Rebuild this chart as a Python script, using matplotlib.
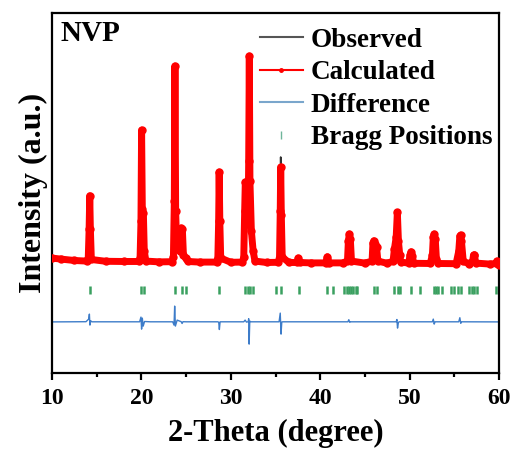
import matplotlib
matplotlib.use("Agg")
import matplotlib.pyplot as plt
from matplotlib.lines import Line2D

plt.rcParams['font.family'] = ['Liberation Serif', 'DejaVu Serif']
plt.rcParams['font.weight'] = 'bold'
plt.rcParams['path.simplify'] = False

# ---------------- data ----------------
calc_x = [10.0, 11.0, 12.5, 13.9,
          14.05, 14.15, 14.22, 14.29, 14.4,
          16.0, 18.0, 19.7,
          19.85, 19.95, 20.02, 20.1, 20.22, 20.32, 20.5,
          22.0, 23.4,
          23.58, 23.68, 23.75, 23.83, 23.95, 24.3, 24.45, 24.58, 24.7, 24.95, 25.2,
          26.5, 28.4,
          28.55, 28.64, 28.7, 28.77, 28.87,
          30.0, 31.3,
          31.45, 31.55, 31.62, 31.72, 31.85, 31.95, 32.0, 32.07, 32.14, 32.3, 32.5, 32.7,
          34.0, 35.3,
          35.45, 35.53, 35.58, 35.65, 35.75,
          36.5, 37.4, 37.55, 37.7,
          39.0, 40.6, 40.8, 41.0,
          42.5, 43.05, 43.15, 43.26, 43.37, 43.5,
          45.0, 45.8, 45.9, 46.0, 46.15, 46.3, 46.45,
          47.5, 48.15, 48.3, 48.5, 48.63, 48.75, 48.9, 49.0,
          49.9, 50.05, 50.16, 50.3, 50.45,
          52.3, 52.55, 52.65, 52.75, 52.87, 53.0, 53.2,
          55.2, 55.5, 55.62, 55.7, 55.8, 56.0, 56.6,
          57.05, 57.15, 57.25, 57.4,
          59.0, 59.65, 59.75, 59.85, 60.0]
calc_y = [1150, 1100, 1030, 1000,
          1100, 2600, 4265, 2600, 1080,
          990, 980, 980,
          1150, 3000, 7550, 3600, 3400, 1500, 1000,
          960, 970,
          1200, 4000, 10750, 3500, 1700, 1500, 2650, 2600, 1300, 1150, 980,
          950, 950,
          1150, 3000, 5450, 3000, 1150,
          940, 950,
          1200, 3500, 4950, 4400, 3500, 3800, 6000, 11250, 5000, 2500, 1500, 1000,
          930, 940,
          1200, 3500, 5700, 3300, 1200,
          930, 930, 1150, 930,
          910, 910, 1215, 910,
          910, 1000, 2000, 2350, 2100, 1000,
          900, 1000, 1900, 2015, 1850, 1715, 1000,
          890, 1000, 1600, 2200, 3435, 2000, 1300, 950,
          900, 1300, 1465, 1250, 890,
          880, 1300, 2200, 2350, 2100, 1100, 880,
          870, 1500, 2250, 2300, 2000, 1000, 870,
          1000, 1300, 1300, 900,
          850, 880, 1000, 840, 825]

# observed differs visibly from calculated only at one peak top
obs_changes = {35.58: 6200}
obs_x = calc_x
obs_y = [obs_changes.get(x, y) for x, y in zip(calc_x, calc_y)]

diff_x = [10.0, 12.0, 13.8, 14.1, 14.18, 14.24, 14.32, 14.45, 16.0, 19.8,
          19.95, 20.02, 20.1, 20.2, 20.35, 21.0, 23.5, 23.65, 23.72, 23.8,
          24.0, 24.45, 24.55, 24.65, 25.0, 28.55, 28.65, 28.72, 28.8, 31.45,
          31.6, 31.75, 31.95, 32.0, 32.05, 32.12, 32.25, 33.0, 35.4, 35.53,
          35.62, 35.7, 35.8, 40.0, 43.1, 43.2, 43.3, 43.4, 45.0, 48.5,
          48.58, 48.65, 48.75, 48.85, 52.55, 52.65, 52.75, 52.85, 55.5, 55.62,
          55.72, 55.82, 60.0]
diff_y = [-2040, -2035, -2030, -1900, -1650, -2200, -1980, -2035, -2035, -2035,
          -1800, -2400, -1850, -2250, -2020, -2035, -2035, -2200, -1250, -2250,
          -1950, -2030, -2120, -2030, -2035, -2035, -2060, -2420, -2035, -2035,
          -1950, -2050, -2030, -1880, -3150, -2000, -2035, -2035, -2035, -1600,
          -2650, -2050, -2035, -2035, -2035, -1930, -2060, -2035, -2035, -2035,
          -1920, -2350, -2060, -2035, -2035, -1900, -2150, -2035, -2035, -1830,
          -2110, -2035, -2040]

bragg_pos = [14.25, 20.0, 20.3, 23.8, 24.5, 24.95, 28.7, 31.55, 31.9, 32.2, 32.45,
             35.0, 35.6, 37.6, 40.8, 41.4, 42.7, 42.95, 43.2, 43.45, 43.7, 43.95, 44.1,
             46.0, 46.4, 48.25, 48.7, 48.9, 50.15, 51.2, 52.7, 52.95, 53.2, 53.6,
             54.6, 55.0, 55.4, 55.8, 56.6, 56.95, 57.25, 57.5, 59.7]
bragg_level = -425

x_ticks = [10, 20, 30, 40, 50, 60]
labels = ["Observed", "Calculated", "Difference", "Bragg Positions"]

# ---------------- figure ----------------
fig = plt.figure(figsize=(5.13, 4.49), dpi=100)
ax = fig.add_axes([0.1014, 0.169, 0.8713, 0.802])

ax.plot(obs_x, obs_y, color='#333333', lw=1.2, zorder=2,
        solid_joinstyle='round')
ax.plot(calc_x, calc_y, color='#ff0000', lw=5, marker='o', ms=5, zorder=3,
        solid_joinstyle='round')
ax.plot(diff_x, diff_y, color='#3d7cc9', lw=1.0, zorder=2)
ax.plot(bragg_pos, [bragg_level] * len(bragg_pos), ls='none', marker='|',
        ms=5.5, mew=1.8, color='#3aa060', zorder=2)

ax.set_xlim(10, 60)
ax.set_ylim(-4600, 13400)
ax.set_xticks(x_ticks)
ax.set_xticks([15, 25, 35, 45, 55], minor=True)
ax.set_yticks([])
ax.tick_params(axis='x', which='major', direction='out', length=5, width=1.6,
               labelsize=17, pad=6)
ax.tick_params(axis='x', which='minor', direction='out', length=3, width=1.6)
for s in ax.spines.values():
    s.set_linewidth(1.6)
for lab in ax.get_xticklabels():
    lab.set_fontweight('bold')

ax.set_xlabel("2-Theta (degree)", fontsize=22, fontweight='bold', labelpad=7)
ax.set_ylabel("Intensity (a.u.)", fontsize=23, fontweight='bold', labelpad=3)

ax.text(0.018, 0.98, "NVP", transform=ax.transAxes, fontsize=21,
        fontweight='bold', va='top', ha='left')

handles = [
    Line2D([], [], color='#555555', lw=1.5),
    Line2D([], [], color='#ff0000', lw=1.5, marker='o', ms=2.5),
    Line2D([], [], color='#7aa6cc', lw=1.5),
    Line2D([], [], ls='none', marker='|', ms=6, mew=1.0, color='#6fb59a'),
]
leg = ax.legend(handles, labels, loc='upper right', bbox_to_anchor=(1.027, 1.012),
                frameon=False, prop={'size': 19.5, 'weight': 'bold'},
                handlelength=1.6, handletextpad=0.28, labelspacing=0.28,
                borderpad=0.2)

fig.savefig("out.png", dpi=100)
